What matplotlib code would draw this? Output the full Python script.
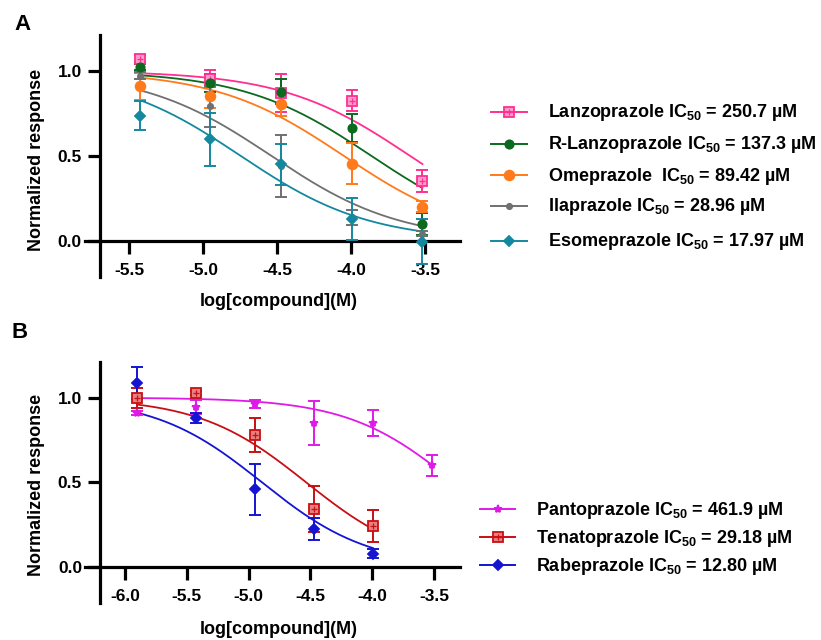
import matplotlib

matplotlib.use("Agg")
import matplotlib.pyplot as plt
import numpy as np
from matplotlib.lines import Line2D

plt.rcParams["font.family"] = ["Liberation Sans", "DejaVu Sans"]
plt.rcParams["font.weight"] = "bold"
plt.rcParams["mathtext.fontset"] = "custom"
plt.rcParams["mathtext.rm"] = "Liberation Sans:bold"
plt.rcParams["mathtext.it"] = "Liberation Sans:bold"
plt.rcParams["mathtext.bf"] = "Liberation Sans:bold"
plt.rcParams["axes.unicode_minus"] = False

W, H = 821, 640

# ---- panel A: log dose (M), means, SD, fit parameters ----
A_LOG_DOSE = [-5.426, -4.949, -4.472, -3.995, -3.517]
A_NAMES = ["Lanzoprazole", "R-Lanzoprazole", "Omeprazole ", "Ilaprazole", "Esomeprazole"]
A_IC50_UM = [250.7, 137.3, 89.42, 28.96, 17.97]
A_IC50_TEXT = ["250.7", "137.3", "89.42", "28.96", "17.97"]
A_HILL = [1.0, 1.0, 1.0, 1.0, 1.0]
A_MEAN = [
    [1.071, 0.953, 0.869, 0.824, 0.353],
    [1.022, 0.928, 0.878, 0.663, 0.100],
    [0.908, 0.849, 0.804, 0.453, 0.202],
    [0.970, 0.790, 0.440, 0.138, 0.041],
    [0.735, 0.598, 0.451, 0.129, -0.004],
]
A_SD = [
    [0.020, 0.050, 0.110, 0.060, 0.065],
    [0.015, 0.050, 0.075, 0.080, 0.065],
    [0.080, 0.070, 0.070, 0.120, 0.030],
    [0.020, 0.120, 0.183, 0.044, 0.015],
    [0.085, 0.155, 0.120, 0.125, 0.130],
]
A_XTICKS = [-5.5, -5.0, -4.5, -4.0, -3.5]

# ---- panel B ----
B_LOG_DOSE = [-5.903, -5.426, -4.949, -4.472, -3.995, -3.517]
B_NAMES = ["Pantoprazole", "Tenatoprazole", "Rabeprazole"]
B_IC50_UM = [461.9, 29.18, 12.80]
B_IC50_TEXT = ["461.9", "29.18", "12.80"]
B_HILL = [1.0, 1.0, 1.0]
B_MEAN = [
    [0.910, 0.943, 0.963, 0.851, 0.851, 0.600],
    [0.996, 1.025, 0.780, 0.341, 0.243],
    [1.086, 0.878, 0.459, 0.224, 0.080],
]
B_SD = [
    [0.010, 0.040, 0.025, 0.130, 0.078, 0.060],
    [0.060, 0.012, 0.100, 0.135, 0.095],
    [0.095, 0.030, 0.152, 0.064, 0.025],
]
B_XTICKS = [-6.0, -5.5, -5.0, -4.5, -4.0, -3.5]

YTICKS = [0.0, 0.5, 1.0]

STYLE_A = [
    dict(color="#FF2F92", marker="s", ms=6.5, face="#FF9CCB", cross=True),
    dict(color="#0B6A1F", marker="o", ms=6.0, face=None, cross=False),
    dict(color="#FF7A1A", marker="o", ms=7.0, face=None, cross=False),
    dict(color="#707070", marker="o", ms=3.8, face=None, cross=False),
    dict(color="#14889F", marker="D", ms=5.5, face=None, cross=False),
]
STYLE_B = [
    dict(color="#E01AE6", marker="*", ms=6.0, face=None, cross=False),
    dict(color="#C80F14", marker="s", ms=6.5, face="#E88080", cross=True),
    dict(color="#1414D2", marker="D", ms=5.5, face=None, cross=False),
]


def px_box(left, top, right, bottom):
    return [left / W, 1 - bottom / H, (right - left) / W, (bottom - top) / H]


def draw_marker(target, x, y, style, **kw):
    face = style["face"] or style["color"]
    target.plot(x, y, linestyle="none", marker=style["marker"], ms=style["ms"],
                mfc=face, mec=style["color"], mew=1.3, **kw)
    if style["cross"]:
        target.plot(x, y, linestyle="none", marker="+", ms=style["ms"] * 0.75,
                    mec=style["color"], mew=0.9, **kw)


def draw_panel(ax, doses, means, sds, ic50s, hills, styles, xlim, yspine_x, xticks):
    for mean, sd, ic50, hill, style in zip(means, sds, ic50s, hills, styles):
        x = np.array(doses[: len(mean)])
        log_ic50 = np.log10(ic50 * 1e-6)
        xs = np.linspace(x[0], x[-1], 200)
        ax.plot(xs, 1 / (1 + 10 ** ((xs - log_ic50) * hill)), color=style["color"], lw=1.3, zorder=2)
        ax.errorbar(x, mean, yerr=sd, fmt="none", ecolor=style["color"], elinewidth=1.4,
                    capsize=4, capthick=1.4, zorder=3)
        draw_marker(ax, x, mean, style, zorder=4)

    ax.set_xlim(*xlim)
    ax.set_ylim(-0.212, 1.21)
    ax.spines["top"].set_visible(False)
    ax.spines["right"].set_visible(False)
    ax.spines["left"].set_position(("data", yspine_x))
    ax.spines["bottom"].set_position(("data", 0.0))
    for side in ("left", "bottom"):
        ax.spines[side].set_linewidth(2.3)
    ax.set_xticks(xticks)
    ax.set_xticklabels([f"{t:.1f}" for t in xticks])
    ax.set_yticks(YTICKS)
    ax.set_yticklabels([f"{t:.1f}" for t in YTICKS])
    ax.tick_params(axis="both", direction="out", length=9, width=2.3, labelsize=12.5)
    ax.tick_params(axis="x", pad=7)
    ax.tick_params(axis="y", pad=4)
    for label in ax.get_xticklabels() + ax.get_yticklabels():
        label.set_fontweight("bold")
    ax.patch.set_alpha(0)


def draw_legend(fig, names, ic50_text, styles, x0, x1, text_x, rows):
    for name, value, style, (hy, base) in zip(names, ic50_text, styles, rows):
        y = 1 - hy / H
        fig.add_artist(Line2D([x0 / W, x1 / W], [y, y], transform=fig.transFigure,
                              color=style["color"], lw=1.4))
        draw_marker(fig.axes[0], [(x0 + x1) / 2 / W], [y], style,
                    transform=fig.transFigure, clip_on=False, zorder=10)
        fig.text(text_x / W, 1 - base / H, f"{name} IC$_{{50}}$ = {value} µM",
                 ha="left", va="baseline", fontsize=13, fontweight="bold")


def main() -> None:
    fig = plt.figure(figsize=(W / 100, H / 100), dpi=100)
    fig.patch.set_facecolor("white")

    ax_a = fig.add_axes(px_box(85, 35, 460, 277))
    ax_b = fig.add_axes(px_box(85, 362, 460, 603))

    draw_panel(ax_a, A_LOG_DOSE, A_MEAN, A_SD, A_IC50_UM, A_HILL, STYLE_A,
               (-5.797, -3.263), -5.696, A_XTICKS)
    draw_panel(ax_b, B_LOG_DOSE, B_MEAN, B_SD, B_IC50_UM, B_HILL, STYLE_B,
               (-6.324, -3.29), -6.202, B_XTICKS)

    for cy, ycy in ((302, 160), (630, 485)):
        fig.text(279 / W, 1 - cy / H, "log[compound](M)", ha="center", va="center",
                 fontsize=13, fontweight="bold")
        fig.text(37 / W, 1 - ycy / H, "Normalized response", ha="center", va="center",
                 rotation=90, fontsize=13, fontweight="bold")

    fig.text(22.5 / W, 1 - 24.5 / H, "A", ha="center", va="center", fontsize=16, fontweight="bold")
    fig.text(20 / W, 1 - 333 / H, "B", ha="center", va="center", fontsize=16, fontweight="bold")

    draw_legend(fig, A_NAMES, A_IC50_TEXT, STYLE_A, 491, 527, 548,
                [(111.7, 117.3), (144.3, 149.3), (175, 181), (205.7, 210.7), (240.7, 245.7)])
    draw_legend(fig, B_NAMES, B_IC50_TEXT, STYLE_B, 480, 515, 536,
                [(509.3, 515), (537.3, 543.3), (565, 570.7)])

    fig.savefig("out.png", dpi=100, facecolor="white")
    plt.close(fig)


if __name__ == "__main__":
    main()
